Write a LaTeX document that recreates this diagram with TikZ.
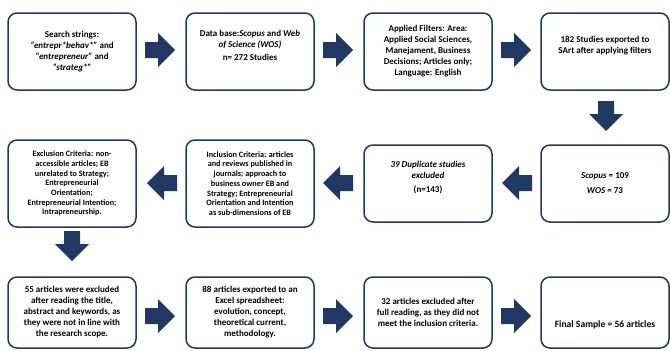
\documentclass[tikz,border=0pt]{standalone}
\usepackage{fontspec}
\setmainfont{Carlito}
\definecolor{navy}{HTML}{203864}
\tikzset{
  box/.style={draw=navy, line width=1.5pt, rounded corners=9pt, minimum width=128pt, inner sep=0pt, align=center, font=\bfseries\fontsize{9}{11}\selectfont, fill=white},
  smallbox/.style={box, font=\bfseries\fontsize{8.2}{9.7}\selectfont},
  pics/blockarrow/.style={code={
    \fill[navy] (-15,-8) -- (-2,-8) -- (-2,-17) -- (15,0) -- (-2,17) -- (-2,8) -- (-15,8) -- cycle;
  }},
}
\begin{document}
\begin{tikzpicture}[x=1pt,y=-1pt]
\useasboundingbox (0,0) rectangle (670,351);
% Row 1
\node[box, minimum height=77pt] (b1) at (72,51.5) {Search strings:\\ \textit{``entrepr*behav*''} and\\ \textit{``entrepreneur''} and\\ \textit{``strateg*''}};
\node[box, minimum height=77pt] (b2) at (250,51.5) {Data base:\textit{Scopus} and \textit{Web}\\ \textit{of Science (WOS)}\\[2pt] n= 272 Studies\\[2pt]};
\node[box, minimum height=77pt] (b3) at (428,51.5) {Applied Filters: Area:\\ Applied Social Sciences,\\ Manejament, Business\\ Decisions; Articles only;\\ Language: English};
\node[box, minimum height=77pt] (b4) at (605,51.5) {182 Studies exported to\\ SArt after applying filters\\[2pt]};
% Row 2
\node[box, minimum height=77pt] (b5) at (605,183.5) {\textit{Scopus} = 109\\[4pt] \textit{WOS} = 73};
\node[box, minimum height=77pt] (b6) at (428,183.5) {\textit{39 Duplicate studies}\\ \textit{excluded}\\[3pt] (n=143)\\[2pt]};
\node[smallbox, minimum height=87pt] (b7) at (250,183.5) {Inclusion Criteria: articles\\ and reviews published in\\ journals; approach to\\ business owner EB and\\ Strategy; Entrepreneurial\\ Orientation and Intention\\ as sub-dimensions of EB};
\node[smallbox, minimum height=87pt] (b8) at (72,183.5) {Exclusion Criteria: non-\\ accessible articles; EB\\ unrelated to Strategy;\\ Entrepreneurial\\ Orientation;\\ Entrepreneurial Intention;\\ Intrapreneurship.};
% Row 3
\node[box, minimum height=71pt] (b9) at (72,312.5) {55 articles were excluded\\ after reading the title,\\ abstract and keywords, as\\ they were not in line with\\ the research scope.};
\node[box, minimum height=71pt] (b10) at (250,312.5) {88 articles exported to an\\ Excel spreadsheet:\\ evolution, concept,\\ theoretical current,\\ methodology.};
\node[box, minimum height=71pt] (b11) at (428,312.5) {32 articles excluded after\\ full reading, as they did not\\ meet the inclusion criteria.};
\node[box, minimum height=71pt] (b12) at (605,312.5) {};
\node[font=\bfseries\fontsize{9.6}{11}\selectfont, inner sep=0pt] (t12) at ([yshift=-12pt]b12.center) {Final Sample = 56 articles};
% Arrows
\pic at (160,50) {blockarrow};
\pic at (338,50) {blockarrow};
\pic at (516,50) {blockarrow};
\pic[rotate=-90] at (606,116) {blockarrow};
\pic[rotate=180] at (517,183) {blockarrow};
\pic[rotate=180] at (338,183) {blockarrow};
\pic[rotate=180] at (162,183) {blockarrow};
\pic[rotate=-90] at (72,246) {blockarrow};
\pic at (160,316) {blockarrow};
\pic at (338,316) {blockarrow};
\pic at (516,316) {blockarrow};
\end{tikzpicture}
\end{document}
